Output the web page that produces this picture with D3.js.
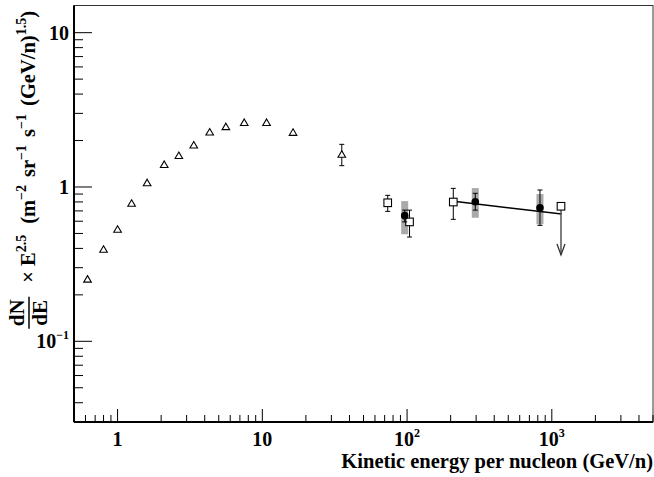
<!DOCTYPE html>
<html>
<head>
<meta charset="utf-8">
<script src="https://cdn.jsdelivr.net/npm/d3@7"></script>
<style>
  body { margin: 0; background: #fff; }
  text { font-family: "Liberation Serif", "Times New Roman", serif; font-weight: bold; }
</style>
</head>
<body>
<svg id="chart" width="654" height="477"></svg>
<script>
// ---- data ----
// open triangles (low energy spectrum)
var triE   = [0.62, 0.80, 1.0, 1.25, 1.6, 2.1, 2.65, 3.36, 4.33, 5.6, 7.5, 10.7, 16.3, 35.4];
var triVal = [0.253, 0.395, 0.532, 0.784, 1.066, 1.40, 1.60, 1.87, 2.27, 2.46, 2.62, 2.62, 2.26, 1.63];
var triLo  = [null, null, null, null, null, null, null, null, null, null, null, null, null, 1.374];
var triHi  = [null, null, null, null, null, null, null, null, null, null, null, null, null, 1.89];

// open squares
var sqE   = [73.5, 104, 208.6];
var sqVal = [0.79, 0.594, 0.799];
var sqLo  = [0.695, 0.474, 0.617];
var sqHi  = [0.883, 0.708, 0.98];

// upper limit square
var ulE = [1157];
var ulVal = [0.75];
var ulTo = [0.363];

// filled circles with systematic bands
var cirE    = [96.3, 296, 828];
var cirVal  = [0.652, 0.803, 0.734];
var cirLo   = [0.594, 0.708, 0.564];
var cirHi   = [0.708, 0.91, 0.956];
var sysLo   = [0.494, 0.632, 0.573];
var sysHi   = [0.810, 0.984, 0.90];

// power-law fit line
var fitE   = [203, 1170];
var fitVal = [0.81, 0.668];

var xMajor = [1, 10, 100, 1000];
var yMajor = [0.1, 1, 10];

// ---- layout ----
var svg = d3.select('#chart');
var pLeft = 74, pRight = 653, pTop = 5.5, pBottom = 422;

var x = d3.scaleLog().domain([0.5, 5000]).range([pLeft, pRight]);
var y = d3.scaleLog().domain([0.03, 15]).range([pBottom, pTop]);

// minor ticks, one per integer multiple inside the domain
function minorTicks(scale){
	var d = scale.domain(), out = [];
	for (var p = -3; p <= 4; p++){
		for (var m = 1; m < 10; m++){
			var v = m*Math.pow(10,p);
			if (v >= d[0]*0.999 && v <= d[1]*1.001) out.push(v);
		}
	}
	return out;
}
function isMajor(list, v){
	return list.some(function(m){return Math.abs(m-v)/v < 1e-6;});
}

var g = svg.append('g');

// frame
g.append('rect').attr('x',pLeft).attr('y',pTop).attr('width',pRight-pLeft).attr('height',pBottom-pTop)
	.attr('fill','none').attr('stroke','#333').attr('stroke-width',1);

// x ticks
minorTicks(x).forEach(function(v){
	var major = isMajor(xMajor, v);
	g.append('line').attr('x1',x(v)).attr('x2',x(v))
		.attr('y1',pBottom).attr('y2',pBottom-(major?13:7))
		.attr('stroke','#000').attr('stroke-width',1);
});
// y ticks
minorTicks(y).forEach(function(v){
	var major = isMajor(yMajor, v);
	g.append('line').attr('y1',y(v)).attr('y2',y(v))
		.attr('x1',pLeft).attr('x2',pLeft+(major?18:9))
		.attr('stroke','#000').attr('stroke-width',1);
});

// axis lines
g.append('line').attr('x1',pLeft).attr('x2',pRight).attr('y1',pBottom).attr('y2',pBottom)
	.attr('stroke','#000').attr('stroke-width',2);
g.append('line').attr('x1',pLeft).attr('x2',pLeft).attr('y1',pTop).attr('y2',pBottom)
	.attr('stroke','#000').attr('stroke-width',2);

// tick labels
function powLabel(sel, v){
	var p = Math.round(Math.log10(v));
	if (p === 0) sel.text('1');
	else if (p === 1) sel.text('10');
	else {
		sel.append('tspan').text('10');
		sel.append('tspan').attr('dy',-9).attr('font-size',12).text(p < 0 ? '\u2212' + (-p) : p);
	}
}
xMajor.forEach(function(v){
	var t = g.append('text').attr('x',x(v)).attr('y',446).attr('text-anchor','middle')
		.attr('font-size',20);
	powLabel(t, v);
});
yMajor.forEach(function(v){
	var t = g.append('text').attr('x',69).attr('y',y(v)+7).attr('text-anchor','end')
		.attr('font-size',20);
	powLabel(t, v);
});

// x title
g.append('text').attr('x',653).attr('y',468).attr('text-anchor','end')
	.attr('font-size',20.5).text('Kinetic energy per nucleon (GeV/n)');

// y title (rotated)
var yt = g.append('g').attr('transform','translate(35,11) rotate(-90)');
var main = yt.append('text').attr('x',0).attr('y',0).attr('text-anchor','end').attr('font-size',20.5);
// [text, superscript?, extra gap before]
var parts = [['\u00d7 E',0,0],['2.5',1,0],['(m',0,11],['\u22122',1,0],['sr',0,8],['\u22121',1,0],['s',0,8],['\u22121',1,0],['(GeV/n)',0,8],['1.5',1,0],[')',0,0]];
var lastSup = false;
parts.forEach(function(p){
	var ts = main.append('tspan').text(p[0]);
	if (p[2]) ts.attr('dx',p[2]);
	if (p[1]) { ts.attr('font-size',14).attr('dy',-9); lastSup = true; }
	else if (lastSup) { ts.attr('dy',9); lastSup = false; }
});
var mainLen = main.node().getComputedTextLength() + 41;
var fx = -mainLen - 40;
yt.append('text').attr('x',fx+16).attr('y',-11).attr('text-anchor','middle').attr('font-size',21).text('dN');
yt.append('text').attr('x',fx+16).attr('y',12).attr('text-anchor','middle').attr('font-size',21).text('dE');
yt.append('line').attr('x1',fx).attr('x2',fx+32).attr('y1',-6).attr('y2',-6)
	.attr('stroke','#000').attr('stroke-width',1.5);

// ---- marks ----
var plot = svg.append('g');

function errBar(xv, lo, hi){
	plot.append('line').attr('x1',x(xv)).attr('x2',x(xv)).attr('y1',y(lo)).attr('y2',y(hi))
		.attr('stroke','#000').attr('stroke-width',1);
	[lo,hi].forEach(function(v){
		plot.append('line').attr('x1',x(xv)-2.5).attr('x2',x(xv)+2.5).attr('y1',y(v)).attr('y2',y(v))
			.attr('stroke','#000').attr('stroke-width',1);
	});
}

// systematic bands
cirE.forEach(function(e,i){
	plot.append('rect').attr('x',x(e)-3.5).attr('width',7)
		.attr('y',y(sysHi[i])).attr('height',y(sysLo[i])-y(sysHi[i]))
		.attr('fill','#aaa');
});

// fit line
plot.append('path').datum(fitE.map(function(e,i){return [e,fitVal[i]];}))
	.attr('d',d3.line().x(function(d){return x(d[0]);}).y(function(d){return y(d[1]);}))
	.attr('fill','none').attr('stroke','#000').attr('stroke-width',1.5);

// triangles
triE.forEach(function(e,i){
	if (triLo[i] != null) errBar(e, triLo[i], triHi[i]);
	var cx = x(e), cy = y(triVal[i]);
	plot.append('path').attr('d','M'+cx+','+(cy-3.5)+'L'+(cx+3.8)+','+(cy+3)+'L'+(cx-3.8)+','+(cy+3)+'Z')
		.attr('fill','#fff').attr('stroke','#000').attr('stroke-width',1.1);
});

// squares
sqE.forEach(function(e,i){
	errBar(e, sqLo[i], sqHi[i]);
	plot.append('rect').attr('x',x(e)-3.8).attr('y',y(sqVal[i])-3.8).attr('width',7.6).attr('height',7.6)
		.attr('fill','#fff').attr('stroke','#000').attr('stroke-width',1.1);
});

// upper limit
ulE.forEach(function(e,i){
	var cx = x(e), y0 = y(ulVal[i]), y1 = y(ulTo[i]);
	plot.append('line').attr('x1',cx).attr('x2',cx).attr('y1',y0).attr('y2',y1)
		.attr('stroke','#555').attr('stroke-width',1.5);
	plot.append('path').attr('d','M'+(cx-4)+','+(y1-11)+'L'+cx+','+y1+'L'+(cx+4)+','+(y1-11))
		.attr('fill','none').attr('stroke','#333').attr('stroke-width',1.3);
	plot.append('rect').attr('x',cx-3.8).attr('y',y0-3.8).attr('width',7.6).attr('height',7.6)
		.attr('fill','#fff').attr('stroke','#000').attr('stroke-width',1.1);
});

// filled circles
cirE.forEach(function(e,i){
	errBar(e, cirLo[i], cirHi[i]);
	plot.append('circle').attr('cx',x(e)).attr('cy',y(cirVal[i])).attr('r',3.8).attr('fill','#000');
});
</script>
</body>
</html>
